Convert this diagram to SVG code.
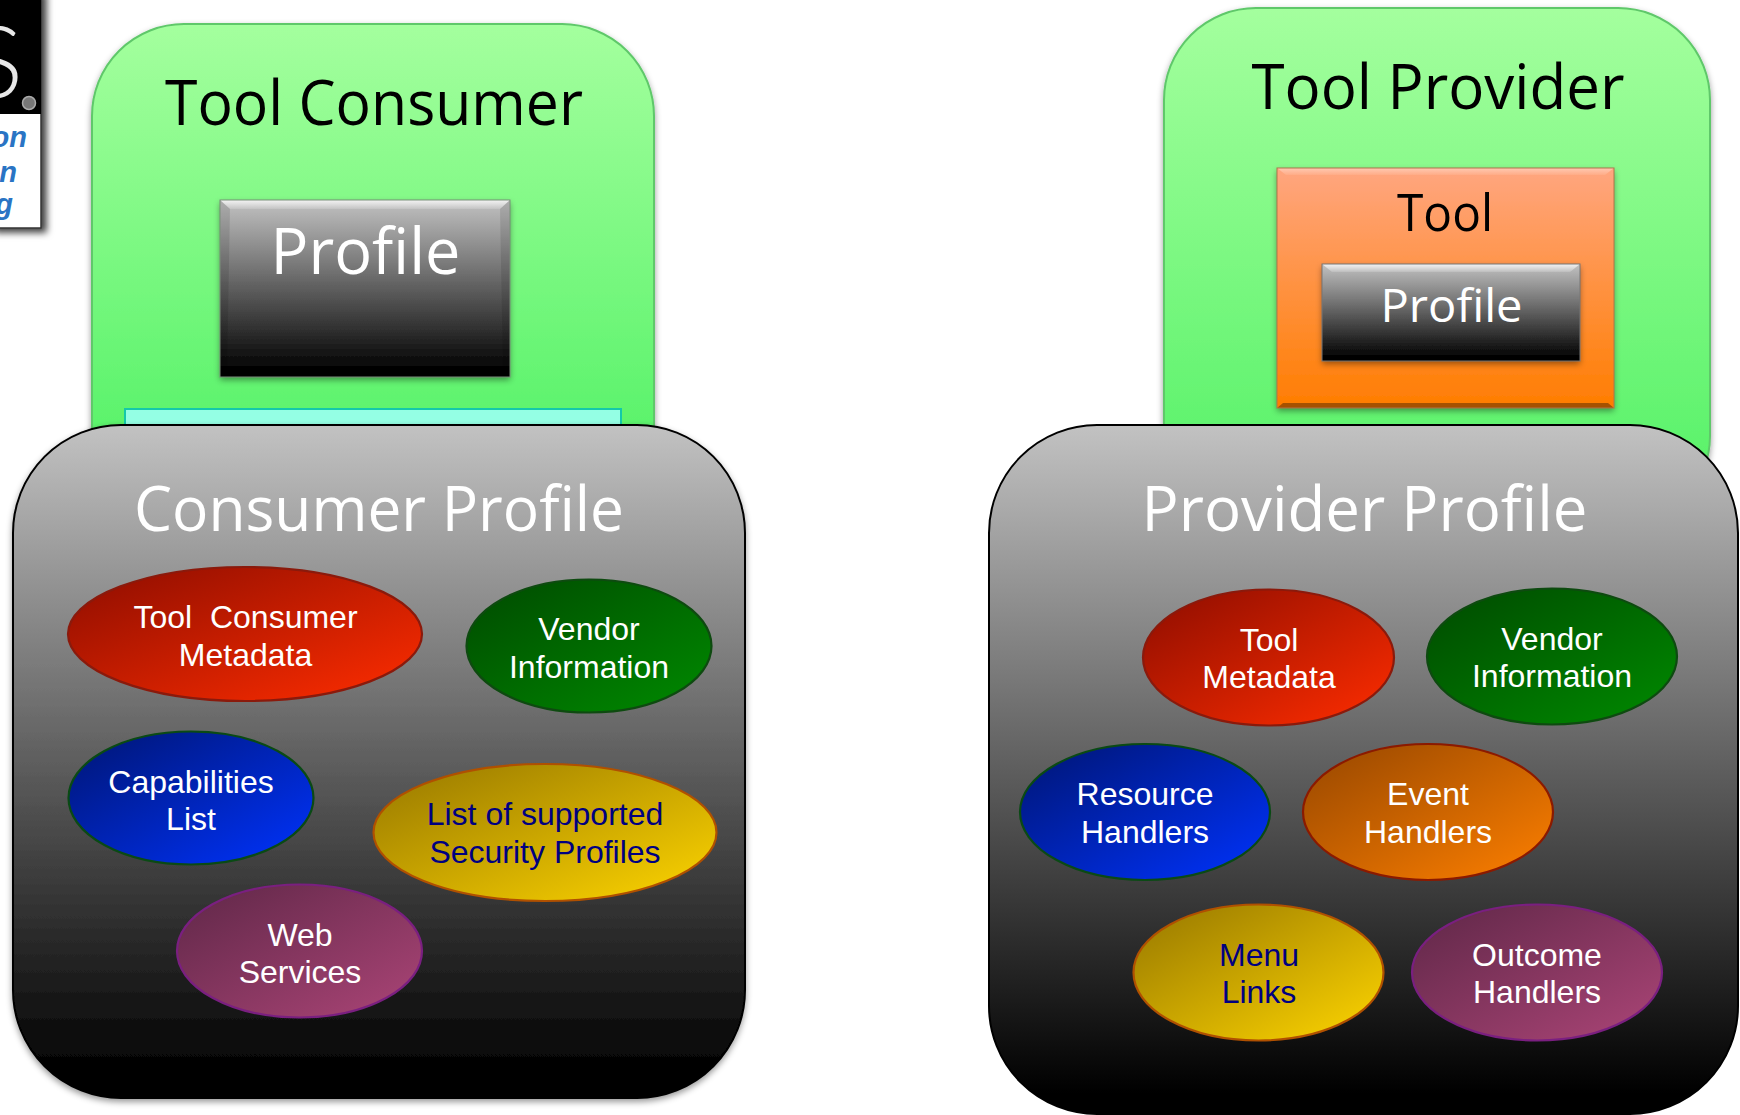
<svg xmlns="http://www.w3.org/2000/svg" width="1740" height="1115" viewBox="0 0 1740 1115">
<style>
.t{font-family:"Open Sans","Noto Sans",sans-serif;text-anchor:middle}
.e{font-family:"Liberation Sans",Arial,sans-serif;font-size:32px;text-anchor:middle;fill:#fff}
.n{fill:#000080}
.k{fill:#000}.w{fill:#fff}
.hi{fill:url(#gBevel)}.lo{fill:#000;opacity:.35}.si{fill:#000;opacity:.1}
.l{font-family:"Liberation Sans",Arial,sans-serif;font-size:29px;font-weight:bold;font-style:italic;fill:#2a74c4;text-anchor:end}
ellipse{stroke-width:2.2}
</style>
<defs>
<linearGradient id="gGreenC" gradientUnits="userSpaceOnUse" x1="0" y1="24" x2="0" y2="425"><stop offset="0" stop-color="#a4ff9e"/><stop offset="1" stop-color="#5cf36c"/></linearGradient>
<linearGradient id="gGreenP" gradientUnits="userSpaceOnUse" x1="0" y1="8" x2="0" y2="470"><stop offset="0" stop-color="#a4ff9e"/><stop offset="1" stop-color="#5af26a"/></linearGradient>
<linearGradient id="gBlack" x1="0" y1="0" x2="0" y2="1"><stop offset="0" stop-color="#c2c2c2"/><stop offset=".97" stop-color="#000"/></linearGradient>
<linearGradient id="gBevel" x1="0" y1="0" x2="0" y2="1"><stop offset="0" stop-color="#fff" stop-opacity=".8"/><stop offset="1" stop-color="#fff" stop-opacity=".15"/></linearGradient>
<linearGradient id="gOr" x1="0" y1="0" x2="0" y2="1"><stop offset="0" stop-color="#ffa680"/><stop offset="1" stop-color="#ff7d00"/></linearGradient>
<linearGradient id="eRed" x1="0.1" y1="0.1" x2="0.9" y2="0.9"><stop offset="0" stop-color="#981000"/><stop offset="1" stop-color="#f42a00"/></linearGradient>
<linearGradient id="eGreen" x1="0.1" y1="0.1" x2="0.9" y2="0.9"><stop offset="0" stop-color="#005000"/><stop offset="1" stop-color="#008400"/></linearGradient>
<linearGradient id="eBlue" x1="0.1" y1="0.1" x2="0.9" y2="0.9"><stop offset="0" stop-color="#001880"/><stop offset="1" stop-color="#0030f0"/></linearGradient>
<linearGradient id="eGold" x1="0.1" y1="0.1" x2="0.9" y2="0.9"><stop offset="0" stop-color="#a08000"/><stop offset="1" stop-color="#f4cc00"/></linearGradient>
<linearGradient id="ePurple" x1="0.1" y1="0.1" x2="0.9" y2="0.9"><stop offset="0" stop-color="#662a4c"/><stop offset="1" stop-color="#a44272"/></linearGradient>
<linearGradient id="eOrange" x1="0.1" y1="0.1" x2="0.9" y2="0.9"><stop offset="0" stop-color="#a04c00"/><stop offset="1" stop-color="#f47a00"/></linearGradient>
<filter id="sh" x="-10%" y="-10%" width="120%" height="120%"><feDropShadow dx="0" dy="3" stdDeviation="3" flood-color="#000" flood-opacity=".4"/></filter>
<filter id="shL" x="-20%" y="-10%" width="160%" height="120%"><feDropShadow dx="5" dy="4" stdDeviation="3.500" flood-color="#000" flood-opacity=".75"/></filter>
</defs>
<rect width="1740" height="1115" fill="#fff"/>

<g id="logo">
<rect x="-10" y="-10" width="51" height="238" fill="#fff" stroke="#333" stroke-width="1.500" filter="url(#shL)"/>
<rect x="-10" y="-10" width="51" height="124" fill="#000"/>
<text x="23" y="98" font-family="Lato,'Open Sans',sans-serif" font-weight="300" font-size="100" fill="#e8e8e8" text-anchor="end">S</text>
<circle cx="29" cy="103" r="6.500" fill="#777" stroke="#aaa" stroke-width="1.500"/>
<text class="l" x="27" y="147">on</text>
<text class="l" x="17" y="182">n</text>
<text class="l" x="13" y="214">g</text>
</g>

<g id="tool-consumer">
<rect x="92" y="24" width="562" height="520" rx="92" ry="92" fill="url(#gGreenC)" stroke="#5fc86a" stroke-width="2" filter="url(#sh)"/>
<text class="t k" x="374" y="125" font-size="63" textLength="418" lengthAdjust="spacingAndGlyphs">Tool Consumer</text>
</g>
<g id="consumer-inner-profile">
<rect x="220" y="200" width="290" height="177" fill="url(#gBlack)" filter="url(#sh)"/>
<polygon class="hi" points="220,200 510,200 500,209 230,209"/>
<polygon class="lo" points="220,377 510,377 503,371 227,371"/>
<polygon class="si" points="220,200 230,209 227,371 220,377"/>
<polygon class="si" points="510,200 500,209 503,371 510,377"/>
<rect x="220" y="200" width="290" height="177" fill="none" stroke="#7b8f7b" stroke-width="1"/>
<text class="t w" x="365.500" y="274" font-size="64" textLength="190" lengthAdjust="spacingAndGlyphs">Profile</text>
</g>
<g id="consumer-bar">
<rect x="125" y="409" width="496" height="40" fill="#94ffe4" stroke="#14c8aa" stroke-width="2"/>
</g>

<g id="tool-provider">
<rect x="1164" y="8" width="546" height="520" rx="92" ry="92" fill="url(#gGreenP)" stroke="#5fc86a" stroke-width="2" filter="url(#sh)"/>
<text class="t k" x="1438" y="109" font-size="63" textLength="373" lengthAdjust="spacingAndGlyphs">Tool Provider</text>
</g>
<g id="tool">
<rect x="1277" y="168" width="337" height="240" fill="url(#gOr)" filter="url(#sh)"/>
<polygon class="hi" points="1277,168 1614,168 1605,175 1286,175" opacity=".5"/>
<polygon class="lo" points="1277,408 1614,408 1608,403 1283,403"/>
<rect x="1277" y="168" width="337" height="240" fill="none" stroke="#b0764a" stroke-width="1"/>
<text class="t k" x="1445" y="231" font-size="52" textLength="96" lengthAdjust="spacingAndGlyphs">Tool</text>
</g>
<g id="provider-inner-profile">
<rect x="1322" y="264" width="258" height="97" fill="url(#gBlack)" filter="url(#sh)"/>
<polygon class="hi" points="1322,264 1580,264 1570,272 1332,272"/>
<polygon class="lo" points="1322,361 1580,361 1573,355 1329,355"/>
<rect x="1322" y="264" width="258" height="97" fill="none" stroke="#777" stroke-width="1"/>
<text class="t w" x="1451.500" y="322" font-size="46" textLength="142" lengthAdjust="spacingAndGlyphs">Profile</text>
</g>

<g id="consumer-profile">
<rect x="13" y="425" width="732" height="673" rx="108" ry="108" fill="url(#gBlack)" stroke="#000" stroke-width="2" filter="url(#sh)"/>
<text class="t w" x="379" y="531" font-size="63" textLength="490" lengthAdjust="spacingAndGlyphs">Consumer Profile</text>
</g>
<g id="provider-profile">
<rect x="989" y="425" width="749" height="689" rx="108" ry="108" fill="url(#gBlack)" stroke="#000" stroke-width="2"/>
<text class="t w" x="1364.500" y="531" font-size="63" textLength="446" lengthAdjust="spacingAndGlyphs">Provider Profile</text>
</g>

<g id="c-tool-consumer-metadata"><ellipse cx="245" cy="634" rx="177" ry="67" fill="url(#eRed)" stroke="#8a1a0c"/><text class="e" x="245.500" y="628" xml:space="preserve">Tool  Consumer</text><text class="e" x="245.500" y="666">Metadata</text></g>
<g id="c-vendor"><ellipse cx="589" cy="646" rx="122.500" ry="66.500" fill="url(#eGreen)" stroke="#0e4a10"/><text class="e" x="589" y="640">Vendor</text><text class="e" x="589" y="678">Information</text></g>
<g id="c-capabilities"><ellipse cx="191" cy="798" rx="122.500" ry="66.500" fill="url(#eBlue)" stroke="#0a4a14"/><text class="e" x="191" y="793">Capabilities</text><text class="e" x="191" y="830">List</text></g>
<g id="c-security"><ellipse cx="545" cy="832.500" rx="171.500" ry="68.500" fill="url(#eGold)" stroke="#b05000"/><text class="e n" x="545" y="825">List of supported</text><text class="e n" x="545" y="863">Security Profiles</text></g>
<g id="c-web"><ellipse cx="299.500" cy="951" rx="122.500" ry="66.500" fill="url(#ePurple)" stroke="#7a1f80"/><text class="e" x="300" y="946">Web</text><text class="e" x="300" y="983">Services</text></g>

<g id="p-tool-metadata"><ellipse cx="1268.500" cy="657.500" rx="125.500" ry="68" fill="url(#eRed)" stroke="#8a1a0c"/><text class="e" x="1269" y="651">Tool</text><text class="e" x="1269" y="688">Metadata</text></g>
<g id="p-vendor"><ellipse cx="1552" cy="656.500" rx="125" ry="68" fill="url(#eGreen)" stroke="#0e4a10"/><text class="e" x="1552" y="650">Vendor</text><text class="e" x="1552" y="687">Information</text></g>
<g id="p-resource"><ellipse cx="1145" cy="812" rx="125" ry="68" fill="url(#eBlue)" stroke="#0a4a14"/><text class="e" x="1145" y="805">Resource</text><text class="e" x="1145" y="843">Handlers</text></g>
<g id="p-event"><ellipse cx="1428" cy="812" rx="125" ry="68" fill="url(#eOrange)" stroke="#8b1a00"/><text class="e" x="1428" y="805">Event</text><text class="e" x="1428" y="843">Handlers</text></g>
<g id="p-menu"><ellipse cx="1258.500" cy="972.500" rx="125" ry="68" fill="url(#eGold)" stroke="#b05000"/><text class="e n" x="1259" y="966">Menu</text><text class="e n" x="1259" y="1003">Links</text></g>
<g id="p-outcome"><ellipse cx="1537" cy="972.500" rx="125" ry="68" fill="url(#ePurple)" stroke="#7a1f80"/><text class="e" x="1537" y="966">Outcome</text><text class="e" x="1537" y="1003">Handlers</text></g>

<g id="connectors"/>
</svg>
